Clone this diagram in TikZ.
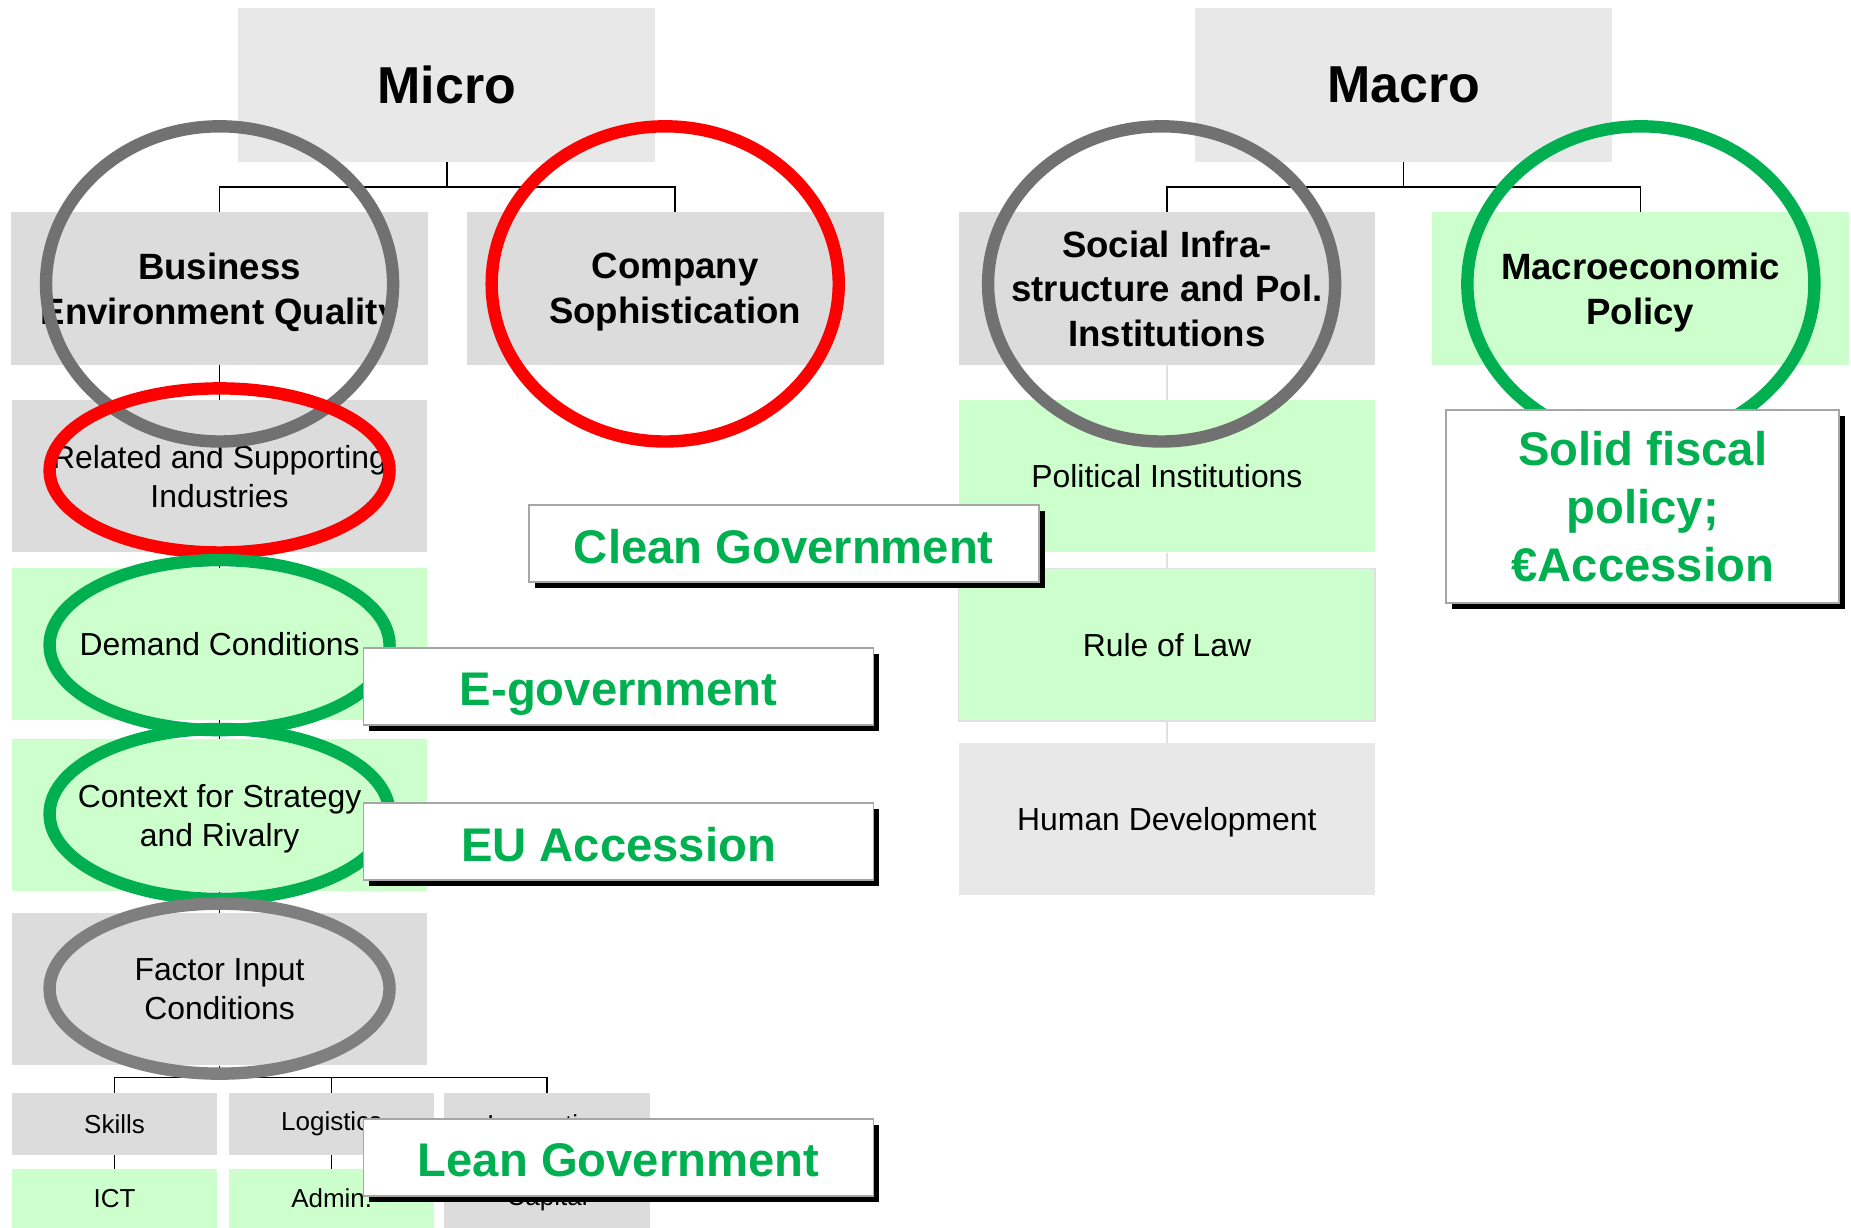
\documentclass[tikz,border=0pt]{standalone}
\usepackage{fontspec}
\setmainfont{Liberation Sans}
\usetikzlibrary{positioning}
\usetikzlibrary{shapes.geometric}
\usetikzlibrary{shadows}

\definecolor{headgray}{HTML}{E8E8E8}
\definecolor{boxgray}{HTML}{DCDCDC}
\definecolor{palegreen}{HTML}{CCFFCC}
\definecolor{ringgray}{HTML}{717171}
\definecolor{ringlight}{HTML}{7F7F7F}
\definecolor{ringred}{HTML}{FF0000}
\definecolor{ringgreen}{HTML}{00B050}
\definecolor{linegray}{HTML}{E0E0E0}

\tikzset{
  headbox/.style={fill=headgray, minimum width=353pt, minimum height=130pt, inner sep=0pt,
    font=\fontsize{44}{50}\selectfont\bfseries},
  pillarbox/.style={fill=#1, minimum width=353pt, minimum height=129pt, inner sep=0pt,
    align=center, text depth=0pt, font=\fontsize{31}{38}\selectfont\bfseries},
  factorbox/.style={fill=#1, minimum width=352pt, minimum height=129pt, inner sep=0pt,
    align=center, text depth=0pt, font=\fontsize{27}{33}\selectfont},
  leafbox/.style={fill=#1, minimum width=174pt, minimum height=52pt, inner sep=0pt,
    font=\fontsize{22}{26}\selectfont},
  ring/.style={ellipse, draw=#1, line width=10.5pt, inner sep=0pt},
  bigring/.style={ring=#1, minimum width=294pt, minimum height=267pt},
  smallring/.style={ring=#1, minimum width=288pt, minimum height=144pt},
  calloutbox/.style={draw=gray!70, line width=1.5pt, fill=white, inner sep=0pt, align=center,
    text=ringgreen, font=\fontsize{40}{49}\selectfont\bfseries,
    drop shadow={shadow xshift=5pt, shadow yshift=-5pt, fill=black, opacity=1}},
  oneline/.style={minimum width=432pt, minimum height=65pt, text height=33pt, text depth=0pt},
  tree/.style={draw=black, line width=1.3pt},
}

\begin{document}
\begin{tikzpicture}[x=1pt, y=-1pt]
  \useasboundingbox (0,0) rectangle (1568,1040);

  % micro side
  \node[headbox] (micro) at (378.5,72) {Micro};
  \node[pillarbox=boxgray] (beq) at (186,244.5) {Business\\Environment Quality};
  \node[pillarbox=boxgray] (cs) at (572,244.5) {Company\\Sophistication};
  \node[factorbox=boxgray] (rsi) at (186,403.5) {Related and Supporting\\Industries};
  \node[factorbox=palegreen] (dc) at (186,545.5) {Demand Conditions};
  \node[factorbox=palegreen] (csr) at (186,690.5) {Context for Strategy\\and Rivalry};
  \node[factorbox=boxgray] (fic) at (186,838) {Factor Input\\Conditions};
  \node[leafbox=boxgray] (skills) at (97,952) {Skills};
  \node[leafbox=boxgray] (logi) at (281,952) {Logistics};
  \node[leafbox=boxgray] (innov) at (463.5,952) {Innovation};
  \node[leafbox=palegreen, minimum height=50pt, below=12pt of skills] (ict) {ICT};
  \node[leafbox=palegreen, minimum height=50pt, below=12pt of logi] (admin) {Admin.};
  \node[leafbox=boxgray, minimum height=50pt, below=12pt of innov] (capital) {Capital};

  \draw[tree] (micro.south) -- ++(0,21) -| (beq.north);
  \draw[tree] (micro.south) -- ++(0,21) -| (cs.north);
  \draw[tree] (beq.south) -- (rsi.north);
  \draw[tree] (rsi.south) -- (dc.north);
  \draw[tree] (dc.south) -- (csr.north);
  \draw[tree] (csr.south) -- (fic.north);
  \draw[tree] (fic.south) -- ++(0,10) -| (skills.north);
  \draw[tree] (fic.south) -- ++(0,10) -| (logi.north);
  \draw[tree] (fic.south) -- ++(0,10) -| (innov.north);
  \draw[tree] (skills.south) -- (ict.north);
  \draw[tree] (logi.south) -- (admin.north);
  \draw[tree] (innov.south) -- (capital.north);

  % macro side
  \node[headbox] (macro) at (1189,72) {Macro};
  \node[pillarbox=boxgray] (sip) at (988.5,244.5) {Social Infra-\\structure and Pol.\\Institutions};
  \node[pillarbox=palegreen] (mp) at (1389.5,244.5) {Macroeconomic\\Policy};
  \node[factorbox=palegreen, minimum width=353pt] (pi) at (988.5,403.5) {Political Institutions};
  \node[factorbox=palegreen, minimum width=353pt, draw=linegray, line width=1.5pt] (rol) at (988.5,546) {Rule of Law};
  \node[factorbox=headgray, minimum width=353pt] (hd) at (988.5,694) {Human Development};

  \draw[tree] (macro.south) -- ++(0,21) -| (sip.north);
  \draw[tree] (macro.south) -- ++(0,21) -| (mp.north);
  \draw[linegray, line width=2pt] (sip.south) -- (pi.north);
  \draw[linegray, line width=2pt] (pi.south) -- (rol.north);
  \draw[linegray, line width=2pt] (rol.south) -- (hd.north);

  % rings
  \node[bigring=ringgray] (beqring) at (186,240.5) {};
  \node[bigring=ringred] (csring) at (563.5,240.5) {};
  \node[smallring=ringred, minimum height=139pt] (rsiring) at (186,398.5) {};
  \node[smallring=ringgreen] (dcring) at (186,546.5) {};
  \node[smallring=ringgreen] (csrring) at (186,689.5) {};
  \node[smallring=ringlight] (ficring) at (186,837.5) {};
  \node[bigring=ringgray] (sipring) at (984,240.5) {};
  \node[bigring=ringgreen] (mpring) at (1390,240.5) {};

  % measures
  \node[calloutbox, oneline] (clean) at (664,460.5) {Clean Government};
  \node[calloutbox, oneline] (egov) at (524,581.5) {E-government};
  \node[calloutbox, oneline] (eu) at (524,713) {EU Accession};
  \node[calloutbox, oneline] (lean) at (524,980.5) {Lean Government};
  \node[calloutbox, minimum width=333pt, minimum height=164pt] (fiscal) at (1391.5,429) {Solid fiscal\\policy;\\€Accession};
\end{tikzpicture}
\end{document}
